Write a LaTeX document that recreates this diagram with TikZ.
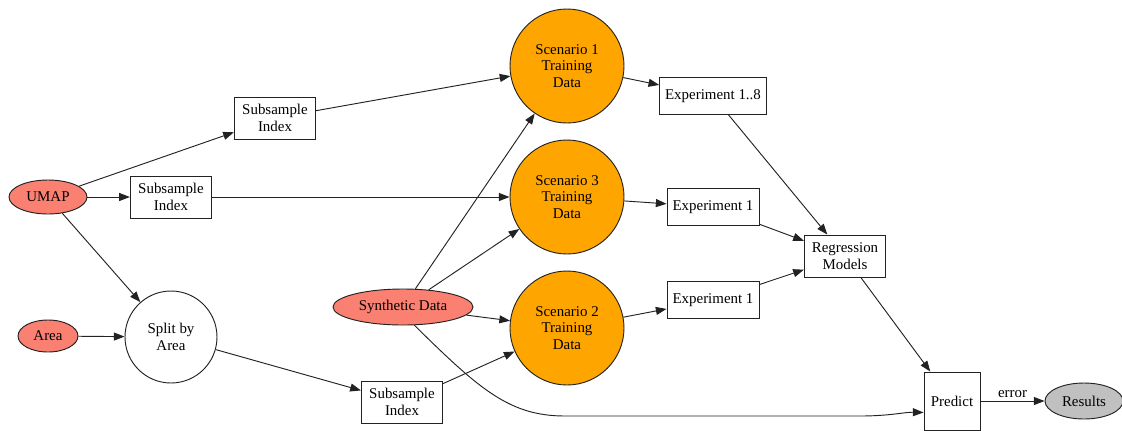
\documentclass[tikz,border=0pt]{standalone}
\usepackage{fontspec}
\setmainfont{Liberation Serif}
\usetikzlibrary{arrows.meta,shapes.geometric}
\definecolor{gvSalmon}{HTML}{FA8072}
\definecolor{gvOrange}{HTML}{FFA500}
\definecolor{gvGray}{HTML}{C0C0C0}
\definecolor{gvLine}{HTML}{222222}

\begin{document}
\begin{tikzpicture}[x=0.75pt,y=-0.75pt, >={Triangle[length=8pt,width=6pt]},
  every node/.style={font=\fontsize{11.2}{12.5}\selectfont,align=center,inner sep=0pt,draw=gvLine,line width=0.7pt},
  idx/.style={rectangle,minimum width=61pt,minimum height=31.5pt},
  src/.style={ellipse,fill=gvSalmon},
  scen/.style={circle,fill=gvOrange,minimum size=85.5pt},
  expbox/.style={rectangle,minimum height=27.5pt},
  edge/.style={->,draw=gvLine,line width=0.7pt}]
\useasboundingbox (0,0) rectangle (1122,430);
% inputs
\node[src,minimum width=58.5pt,minimum height=25.5pt] (umap) at (48,197) {UMAP};
\node[src,minimum width=45pt,minimum height=24pt] (area) at (48,336) {Area};
\node[src,minimum width=105pt,minimum height=27pt] (syn) at (403,307) {Synthetic Data};
% subsampling
\node[idx] (idxa) at (275,118) {Subsample\\Index};
\node[idx] (idxb) at (171,197) {Subsample\\Index};
\node[circle,minimum size=69pt] (split) at (171,337) {Split by\\Area};
\node[idx] (idxc) at (402,402) {Subsample\\Index};
% training data
\node[scen] (sc1) at (567,66) {Scenario 1\\Training\\Data};
\node[scen] (sc3) at (567,197) {Scenario 3\\Training\\Data};
\node[scen] (sc2) at (567,328) {Scenario 2\\Training\\Data};
% experiments and models
\node[expbox,minimum width=80pt] (exa) at (713,96) {Experiment 1..8};
\node[expbox,minimum width=69pt] (exb) at (713,207) {Experiment 1};
\node[expbox,minimum width=69pt] (exc) at (713,300) {Experiment 1};
\node[idx] (reg) at (845,256) {Regression\\Models};
\node[rectangle,minimum width=42pt,minimum height=43.5pt] (pred) at (952,401) {Predict};
\node[ellipse,fill=gvGray,minimum width=58.5pt,minimum height=27pt] (res) at (1084,401) {Results};

\draw[edge] (umap)--(idxa);\draw[edge] (umap)--(idxb);\draw[edge] (umap)--(split);
\draw[edge] (area)--(split);\draw[edge] (split)--(idxc);
\draw[edge] (idxa)--(sc1);\draw[edge] (idxb)--(sc3);\draw[edge] (idxc)--(sc2);
\draw[edge] (syn)--(sc1);\draw[edge] (syn)--(sc3);\draw[edge] (syn)--(sc2);
\draw[edge] (syn.-58) .. controls (480,390) and (510,416) .. (565,416) -- (860,416) .. controls (890,416) and (905,412) .. (pred.-158);
\draw[edge] (sc1)--(exa);\draw[edge] (sc3)--(exb);\draw[edge] (sc2)--(exc);
\draw[edge] (exa)--(reg);\draw[edge] (exb)--(reg);\draw[edge] (exc)--(reg);
\draw[edge] (reg)--(pred);
\draw[edge] (pred)--node[above=2pt,draw=none]{error}(res);
\end{tikzpicture}
\end{document}
